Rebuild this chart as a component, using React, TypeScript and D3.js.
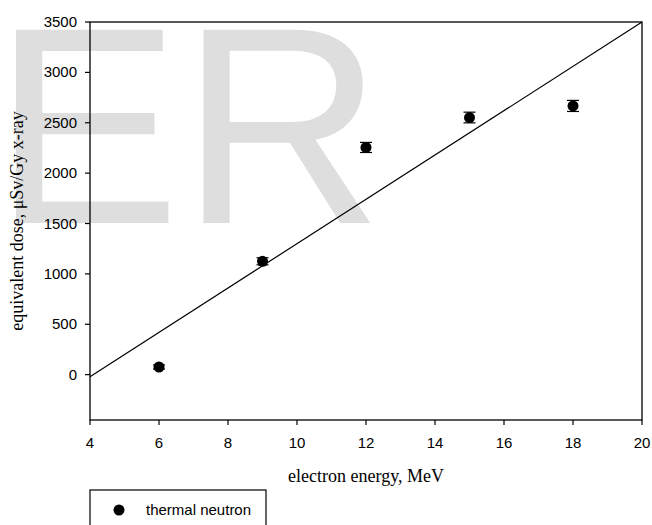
import React from "react";
import * as d3 from "d3";

const energies = [6, 9, 12, 15, 18];
const doses = [76, 1125, 2255, 2552, 2667];
const doseErrors = [20, 35, 50, 53, 55];
const fitX = [4, 20];
const fitY = [-20, 3500];
const xTicks = [4, 6, 8, 10, 12, 14, 16, 18, 20];
const yTicks = [0, 500, 1000, 1500, 2000, 2500, 3000, 3500];
const legendLabel = "thermal neutron";
const xTitle = "electron energy, MeV";
const yTitle = "equivalent dose, \u03bcSv/Gy x-ray";
const watermark = "ER";

export default function App() {
  const W = 652, H = 525;
  const left = 90, right = 642, top = 22, bottom = 420;
  const x = d3.scaleLinear().domain([4, 20]).range([left, right]);
  const y = d3.scaleLinear().domain([-450, 3500]).range([bottom, top]);
  const sans = "'Liberation Sans', Arial, sans-serif";
  const serif = "'Liberation Serif', 'Times New Roman', serif";
  const line = d3.line<number>().x((d, i) => x(fitX[i])).y((d) => y(d));

  return (
    <svg width={W} height={H} style={{ position: "absolute", left: 0, top: 0, background: "#fff" }}>
      <text x={-7} y={223} fontFamily={sans} fontSize={281} fill="#dedede">{watermark}</text>
      {/* frame */}
      <rect x={left} y={top} width={right - left} height={bottom - top} fill="none" stroke="#000" strokeWidth={1.3} />
      {/* x ticks */}
      {xTicks.map((t) => (
        <g key={"x" + t}>
          <line x1={x(t)} x2={x(t)} y1={bottom} y2={bottom + 5} stroke="#000" strokeWidth={1.2} />
          <text x={x(t)} y={448} textAnchor="middle" fontFamily={sans} fontSize={15} fill="#000">{t}</text>
        </g>
      ))}
      {/* y ticks */}
      {yTicks.map((t) => (
        <g key={"y" + t}>
          <line x1={left - 5} x2={left} y1={y(t)} y2={y(t)} stroke="#000" strokeWidth={1.2} />
          <text x={77} y={y(t) + 5} textAnchor="end" fontFamily={sans} fontSize={15} fill="#000">{t}</text>
        </g>
      ))}
      {/* fit line */}
      <path d={line(fitY) || ""} fill="none" stroke="#000" strokeWidth={1.2} />
      {/* points with error bars */}
      {energies.map((e, i) => {
        const cx = x(e), cy = y(doses[i]);
        const y1 = y(doses[i] + doseErrors[i]), y2 = y(doses[i] - doseErrors[i]);
        return (
          <g key={"p" + i}>
            <line x1={cx} x2={cx} y1={y1} y2={y2} stroke="#000" strokeWidth={1.2} />
            <line x1={cx - 6} x2={cx + 6} y1={y1} y2={y1} stroke="#000" strokeWidth={1.2} />
            <line x1={cx - 6} x2={cx + 6} y1={y2} y2={y2} stroke="#000" strokeWidth={1.2} />
            <circle cx={cx} cy={cy} r={5.5} fill="#000" />
          </g>
        );
      })}
      {/* axis titles */}
      <text x={(left + right) / 2} y={482} textAnchor="middle" fontFamily={serif} fontSize={18} fill="#000">{xTitle}</text>
      <text transform={`translate(23, ${(top + bottom) / 2}) rotate(-90)`} textAnchor="middle" fontFamily={serif} fontSize={18} fill="#000">{yTitle}</text>
      {/* legend */}
      <rect x={90} y={490} width={176} height={50} fill="#fff" stroke="#000" strokeWidth={1.2} />
      <circle cx={119} cy={510} r={5.5} fill="#000" />
      <text x={146} y={515} fontFamily={sans} fontSize={15} fill="#000">{legendLabel}</text>
    </svg>
  );
}
